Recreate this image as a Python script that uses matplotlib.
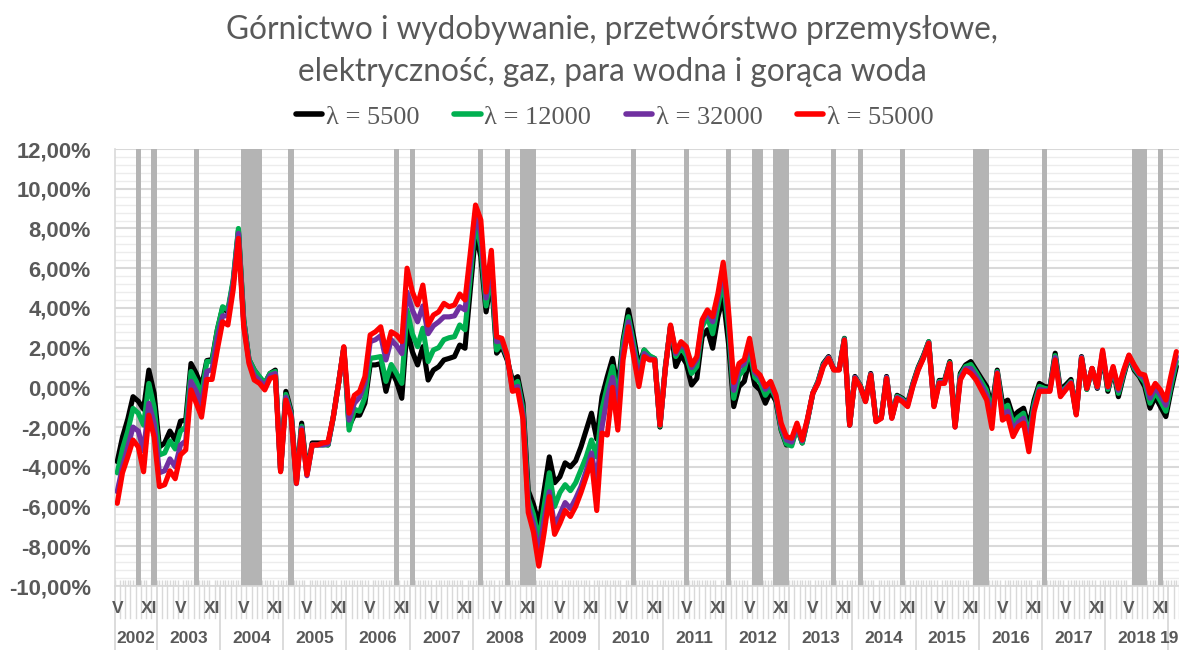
import matplotlib
matplotlib.use("Agg")
import matplotlib.pyplot as plt
from matplotlib.lines import Line2D
import numpy as np
import pandas as pd

# monthly values, May 2002 .. Feb 2019 (%)
start_month = "2002-05"

lam_5500 = [
    -3.74, -2.5, -1.6, -0.47, -0.7, -1.1, 0.87, -0.3, -3.0, -2.8,
    -2.2, -2.65, -1.7, -1.65, 1.2, 0.7, 0.03, 1.35, 1.4, 2.9,
    4.0, 3.8, 5.3, 7.9, 3.4, 1.4, 0.87, 0.5, 0.2, 0.7,
    0.87, -4.2, -0.2, -1.2, -4.7, -1.8, -4.3, -2.8, -2.8, -2.8,
    -2.9, -1.5, 0.2, 2.0, -1.95, -1.4, -1.4, -0.8, 1.13, 1.13,
    1.2, -0.2, 0.87, 0.3, -0.55, 2.98, 1.8, 1.13, 2.05, 0.37,
    0.87, 1.04, 1.38, 1.46, 1.55, 2.13, 1.97, 4.9, 7.75, 6.58,
    3.8, 5.5, 1.72, 2.05, 1.38, 0.37, 0.54, -0.8, -5.2, -5.9,
    -6.9, -5.2, -3.5, -4.8, -4.5, -3.8, -4.0, -3.7, -3.0, -2.15,
    -1.3, -2.6, -0.47, 0.54, 1.46, -0.1, 2.38, 3.9, 2.55, 1.05,
    1.88, 1.55, 1.45, -2.0, 1.0, 3.05, 1.05, 1.63, 1.2, 0.12,
    0.45, 2.55, 2.9, 1.97, 3.56, 4.57, 2.22, -0.97, 0.04, 0.3,
    1.4, 0.12, -0.13, -0.8, -0.2, -0.7, -2.15, -2.9, -2.85, -2.0,
    -2.8, -1.65, -0.3, 0.3, 1.2, 1.55, 0.9, 0.9, 2.47, -1.9,
    0.55, 0.1, -0.65, 0.7, -1.65, -1.5, 0.55, -1.5, -0.4, -0.55,
    -0.8, 0.2, 1.0, 1.6, 2.3, -0.85, 0.35, 0.35, 1.3, -1.9,
    0.7, 1.13, 1.3, 0.87, 0.45, 0.04, -1.0, 0.87, -0.8, -0.64,
    -1.47, -1.22, -1.05, -1.97, -0.64, 0.2, 0.04, 0.0, 1.72, -0.13,
    0.12, 0.4, -1.3, 1.55, -0.1, 0.95, -0.05, 1.6, -0.2, 0.9,
    -0.47, 0.6, 1.55, 0.87, 0.54, 0.04, -1.05, -0.47, -0.97, -1.47,
    -0.13, 1.05,
]

lam_12000 = [
    -4.3, -3.1, -2.2, -1.06, -1.3, -1.9, 0.2, -1.0, -3.4, -3.3,
    -2.7, -3.1, -2.2, -2.0, 0.8, 0.3, -0.4, 1.3, 1.3, 2.9,
    4.06, 3.9, 5.4, 8.0, 3.4, 1.4, 0.87, 0.54, 0.2, 0.7,
    0.8, -4.2, -0.35, -1.3, -4.8, -1.95, -4.4, -2.9, -2.9, -2.9,
    -2.9, -1.5, 0.2, 2.0, -2.15, -1.1, -1.2, -0.5, 1.46, 1.5,
    1.55, 0.3, 1.15, 0.7, 0.2, 3.9, 2.7, 2.05, 2.98, 1.3,
    1.88, 2.0, 2.4, 2.5, 2.55, 3.14, 2.9, 5.57, 8.35, 7.08,
    4.1, 5.9, 1.88, 2.2, 1.5, 0.1, 0.3, -1.1, -5.6, -6.4,
    -7.7, -6.0, -4.3, -6.0, -5.3, -4.9, -5.2, -4.8, -4.15, -3.5,
    -2.65, -3.5, -1.1, 0.04, 1.05, -0.64, 2.2, 3.56, 2.2, 0.7,
    1.88, 1.6, 1.45, -1.95, 0.95, 3.1, 1.55, 2.0, 1.6, 0.7,
    1.05, 3.05, 3.56, 2.7, 4.1, 5.4, 3.0, -0.55, 0.6, 0.9,
    1.9, 0.5, 0.25, -0.4, 0.0, -0.55, -2.1, -2.85, -2.95, -2.0,
    -2.8, -1.65, -0.3, 0.3, 1.15, 1.5, 0.9, 0.9, 2.45, -1.9,
    0.5, 0.1, -0.7, 0.65, -1.7, -1.5, 0.5, -1.5, -0.45, -0.6,
    -0.85, 0.15, 0.95, 1.55, 2.3, -0.9, 0.3, 0.3, 1.25, -1.95,
    0.6, 1.05, 1.15, 0.75, 0.3, -0.15, -1.3, 0.8, -1.1, -0.9,
    -1.8, -1.5, -1.3, -2.4, -0.85, 0.05, -0.05, -0.1, 1.6, -0.25,
    0.0, 0.3, -1.35, 1.5, -0.1, 0.95, 0.0, 1.7, -0.1, 0.95,
    -0.3, 0.7, 1.55, 0.95, 0.6, 0.25, -0.8, -0.25, -0.7, -1.2,
    0.1, 1.3,
]

lam_32000 = [
    -5.25, -4.0, -3.0, -2.0, -2.2, -3.2, -0.8, -1.8, -4.3, -4.2,
    -3.6, -4.0, -2.9, -2.7, 0.3, -0.2, -0.9, 0.8, 0.9, 2.5,
    3.6, 3.6, 5.2, 7.75, 3.2, 1.3, 0.6, 0.35, 0.05, 0.6,
    0.7, -4.2, -0.5, -1.4, -4.85, -2.05, -4.45, -2.9, -2.9, -2.9,
    -2.85, -1.5, 0.2, 2.0, -1.65, -0.8, -0.5, 0.2, 2.3, 2.4,
    2.6, 1.38, 2.4, 2.1, 1.7, 4.8, 3.9, 3.3, 4.1, 2.7,
    3.1, 3.3, 3.55, 3.55, 3.6, 4.06, 3.9, 6.2, 8.7, 7.75,
    4.5, 6.3, 2.3, 2.35, 1.55, -0.1, 0.05, -1.35, -6.0, -6.9,
    -8.4, -6.7, -5.25, -7.0, -6.4, -5.8, -6.1, -5.6, -5.0, -4.2,
    -3.3, -4.8, -2.0, -0.5, 0.5, -1.2, 1.8, 3.3, 1.9, 0.35,
    1.7, 1.45, 1.4, -1.9, 0.9, 3.1, 1.7, 2.2, 1.9, 1.0,
    1.4, 3.3, 3.8, 3.3, 4.5, 6.0, 3.6, -0.15, 1.0, 1.2,
    2.3, 0.75, 0.5, -0.1, 0.2, -0.45, -1.95, -2.65, -2.75, -1.9,
    -2.7, -1.6, -0.3, 0.25, 1.1, 1.5, 0.9, 0.9, 2.4, -1.9,
    0.5, 0.05, -0.7, 0.65, -1.7, -1.55, 0.5, -1.55, -0.5, -0.65,
    -0.9, 0.1, 0.9, 1.5, 2.25, -0.95, 0.25, 0.25, 1.2, -2.0,
    0.5, 0.95, 0.95, 0.55, 0.1, -0.4, -1.7, 0.75, -1.4, -1.2,
    -2.15, -1.75, -1.55, -2.8, -1.05, -0.1, -0.15, -0.15, 1.5, -0.35,
    -0.05, 0.25, -1.35, 1.5, -0.05, 0.95, 0.0, 1.8, 0.0, 1.0,
    -0.15, 0.8, 1.6, 1.05, 0.65, 0.45, -0.55, 0.0, -0.4, -0.9,
    0.4, 1.55,
]

lam_55000 = [
    -5.84, -4.3, -3.5, -2.65, -3.0, -4.25, -1.4, -2.5, -5.0, -4.9,
    -4.2, -4.6, -3.4, -3.15, -0.13, -0.8, -1.5, 0.4, 0.4, 1.9,
    3.3, 3.14, 4.9, 7.5, 3.05, 1.2, 0.37, 0.2, -0.13, 0.45,
    0.54, -4.25, -0.64, -1.5, -4.83, -2.15, -4.4, -2.9, -2.9, -2.8,
    -2.75, -1.5, 0.2, 2.05, -1.3, -0.4, -0.2, 0.54, 2.64, 2.8,
    3.05, 1.8, 2.8, 2.64, 2.3, 6.0, 4.82, 4.15, 5.15, 3.14,
    3.64, 3.8, 4.23, 4.06, 4.15, 4.7, 4.4, 6.75, 9.18, 8.43,
    4.8, 6.9, 2.55, 2.47, 1.63, -0.2, -0.13, -1.6, -6.3, -7.3,
    -9.0, -7.35, -5.5, -7.4, -6.85, -6.2, -6.5, -6.0, -5.3, -4.5,
    -3.65, -6.2, -2.3, -2.4, 0.0, -2.15, 1.38, 3.05, 1.55, 0.04,
    1.55, 1.38, 1.38, -1.9, 0.87, 3.14, 1.8, 2.3, 2.05, 1.13,
    1.55, 3.4, 3.9, 3.56, 4.73, 6.3, 3.9, 0.25, 1.2, 1.4,
    2.47, 0.87, 0.62, 0.04, 0.3, -0.38, -1.8, -2.48, -2.56, -1.8,
    -2.65, -1.56, -0.3, 0.2, 1.05, 1.46, 0.87, 0.87, 2.38, -1.9,
    0.45, 0.04, -0.72, 0.62, -1.73, -1.56, 0.45, -1.56, -0.55, -0.72,
    -0.97, 0.04, 0.87, 1.46, 2.22, -0.97, 0.2, 0.2, 1.2, -2.0,
    0.37, 0.87, 0.7, 0.37, -0.13, -0.64, -2.07, 0.7, -1.65, -1.47,
    -2.48, -1.97, -1.8, -3.24, -1.22, -0.2, -0.2, -0.2, 1.38, -0.47,
    -0.13, 0.2, -1.39, 1.46, -0.05, 0.96, 0.04, 1.88, 0.04, 1.05,
    -0.05, 0.87, 1.63, 1.13, 0.7, 0.62, -0.3, 0.2, -0.13, -0.64,
    0.62, 1.8,
]

# months shaded grey
shaded_months = [
    "2002-09", "2002-12", "2003-08", "2004-05", "2004-06", "2004-07", "2004-08",
    "2005-02", "2006-10", "2007-01", "2008-02", "2008-07", "2008-10", "2008-11",
    "2008-12", "2010-07", "2011-05", "2012-01", "2012-06", "2012-07", "2012-10",
    "2012-11", "2012-12", "2013-09", "2014-02", "2014-10", "2015-12", "2016-01",
    "2016-02", "2017-01", "2018-06", "2018-07", "2018-08", "2018-11",
]

series = [
    ("λ = 5500", lam_5500, "#000000"),
    ("λ = 12000", lam_12000, "#00B050"),
    ("λ = 32000", lam_32000, "#7030A0"),
    ("λ = 55000", lam_55000, "#FF0000"),
]

title_lines = ["Górnictwo i wydobywanie, przetwórstwo przemysłowe,",
               "elektryczność, gaz, para wodna i gorąca woda"]

GRAY_TXT = "#595959"
GRID = "#d9d9d9"

months = pd.date_range(start_month, periods=len(lam_5500), freq="MS")
x = np.arange(len(months))
keys = [m.strftime("%Y-%m") for m in months]

W, H = 1179, 650
fig = plt.figure(figsize=(W / 100, H / 100), dpi=100)
ax = fig.add_axes([114.6 / W, 1 - 586 / H, (W - 114.6) / W, 437 / H])

ax.set_xlim(-0.5, len(x) - 0.9)
ax.set_ylim(-10, 12)

# grid
ax.set_yticks(np.arange(-10, 12.01, 2))
ax.set_yticks(np.arange(-10, 12.01, 0.4), minor=True)
ax.grid(which="major", axis="y", color=GRID, lw=1.5)
ax.grid(which="minor", axis="y", color="#ececec", lw=1.0)
ax.set_axisbelow(True)

# shaded bands
for k in [keys.index(m) for m in shaded_months]:
    ax.axvspan(k - 0.5, k + 0.5, color="#b4b4b4", lw=0, zorder=1)

for name, vals, col in series:
    ax.plot(x, vals, color=col, lw=3.7, solid_joinstyle="round",
            solid_capstyle="round", zorder=3)

ax.yaxis.set_major_formatter(
    plt.FuncFormatter(lambda v, p: f"{v:.2f}%".replace(".", ",")))
ax.tick_params(axis="y", which="both", length=0, pad=17)
for lab in ax.get_yticklabels():
    lab.set_fontfamily("Liberation Sans")
    lab.set_fontweight("bold")
    lab.set_fontsize(15.8)
    lab.set_color(GRAY_TXT)

for s in ["top", "right"]:
    ax.spines[s].set_visible(False)
for s in ["left", "bottom"]:
    ax.spines[s].set_color(GRID)
    ax.spines[s].set_linewidth(1.2)

# x axis: V / XI labels, month tick hashes
lab_pos = [i for i, m in enumerate(months) if m.month in (5, 11)]
lab_txt = ["V" if months[i].month == 5 else "XI" for i in lab_pos]
ax.set_xticks(lab_pos)
ax.set_xticklabels(lab_txt, fontfamily="Liberation Sans", fontweight="bold",
                   fontsize=12.5, color=GRAY_TXT)
ax.set_xticks(np.arange(-0.5, len(x), 0.5), minor=True)
ax.tick_params(axis="x", which="major", length=0, pad=11)
ax.tick_params(axis="x", which="minor", direction="in", length=4,
               color=GRID, width=1)

xt = ax.get_xaxis_transform()
for k in range(len(x) + 1):
    b = k - 0.5
    new_year = k == 0 or (k < len(x) and months[k].month == 1)
    low = -0.147 if new_year else -0.073
    ax.plot([b, b], [0, low], transform=xt, clip_on=False,
            color=GRID, lw=1.3 if new_year else 1.0, zorder=0)

years = sorted(set(months.year))
for yr in years:
    idx = [i for i, m in enumerate(months) if m.year == yr]
    if len(idx) >= 6:
        ax.text((idx[0] + idx[-1]) / 2, -0.119, str(yr), transform=xt,
                ha="center", va="center", fontfamily="Liberation Sans",
                fontweight="bold", fontsize=12.5, color=GRAY_TXT)
    else:
        ax.text(idx[0] - 0.2, -0.119, str(yr)[2:], transform=xt,
                ha="center", va="center", fontfamily="Liberation Sans",
                fontweight="bold", fontsize=12.5, color=GRAY_TXT)

for line, ypx in zip(title_lines, [30, 72]):
    fig.text(612 / W, 1 - ypx / H, line, ha="center", va="center",
             fontsize=22.7, color=GRAY_TXT, fontfamily="Lato")

handles = [Line2D([], [], color=c, lw=4, solid_capstyle="round") for _, _, c in series]
fig.legend(handles, [n for n, _, _ in series], loc="center",
           bbox_to_anchor=(615 / W, 1 - 117 / H), ncol=4, frameon=False,
           prop={"family": "Liberation Serif", "size": 19},
           handlelength=1.0, handletextpad=0.15, columnspacing=1.3,
           labelcolor=GRAY_TXT)

fig.savefig("out.png", dpi=100)
